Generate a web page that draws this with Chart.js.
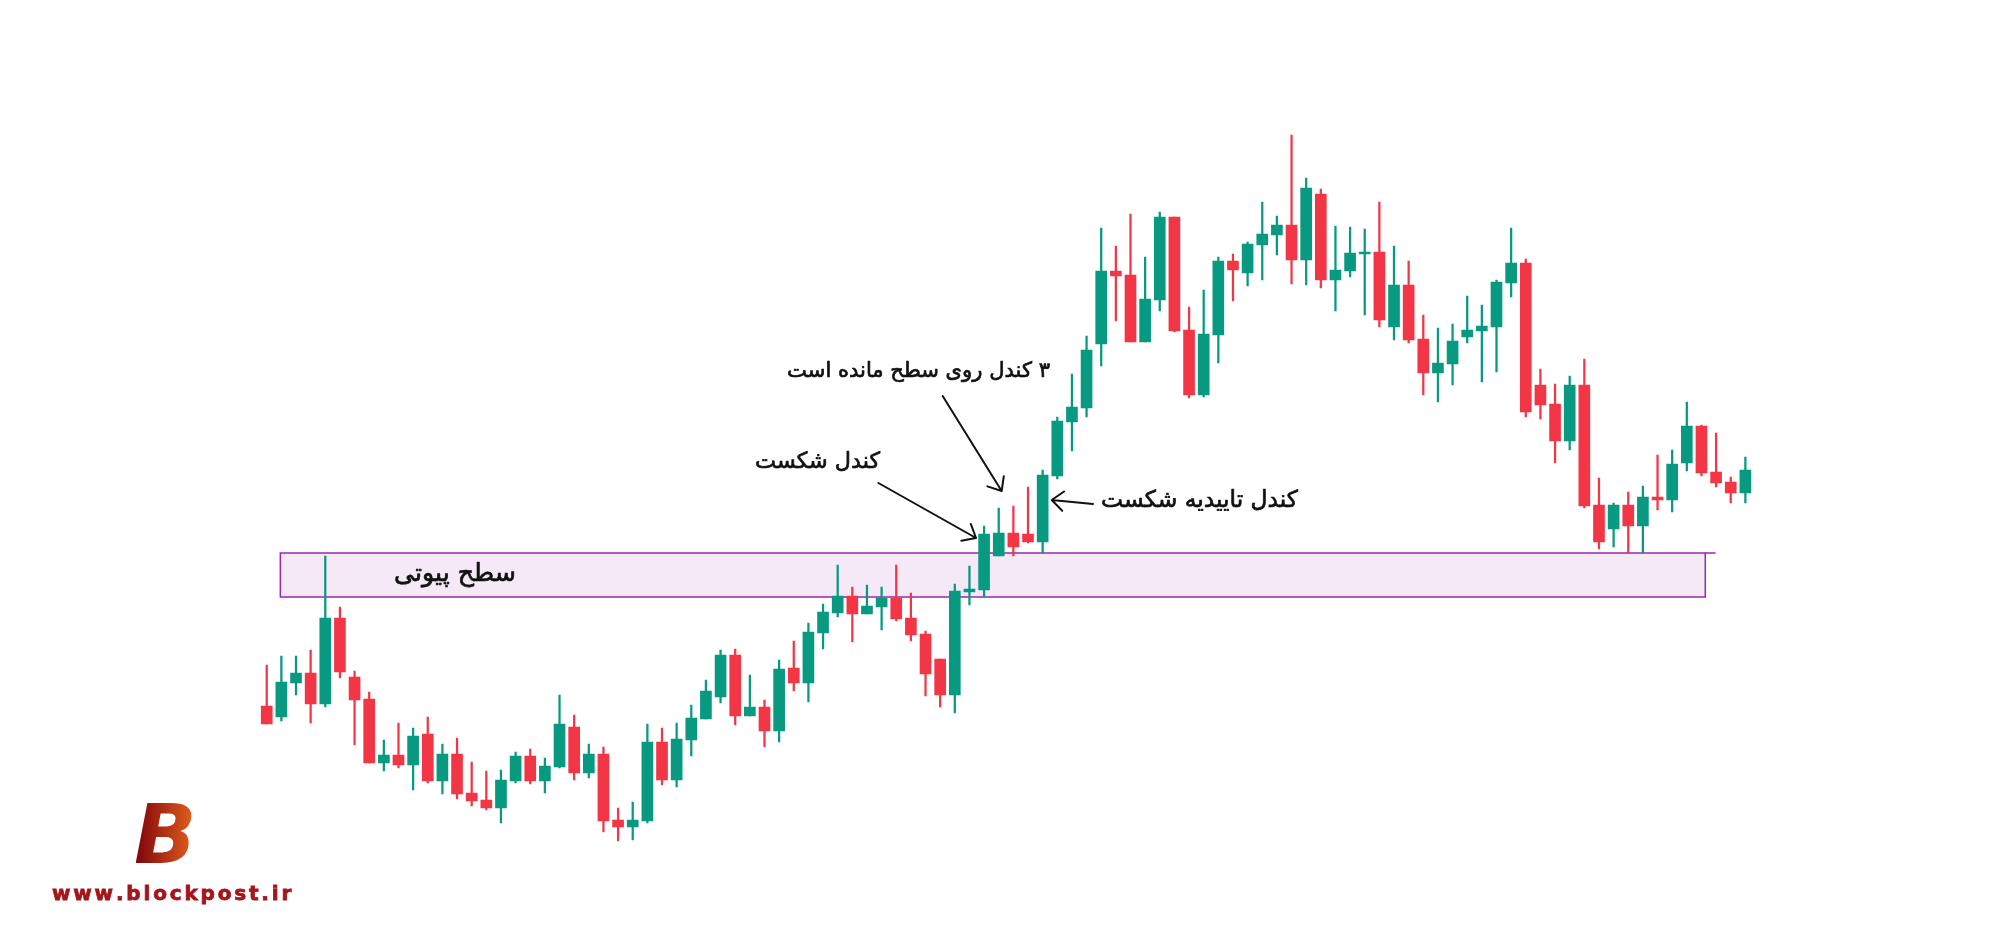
<!DOCTYPE html>
<html lang="fa">
<head>
<meta charset="utf-8">
<title>سطح پیوتی</title>
<script src="https://cdn.jsdelivr.net/npm/chart.js@4.4.1/dist/chart.umd.min.js"></script>
<style>
  html, body { margin: 0; padding: 0; background: #fff; }
  #wrap { position: relative; width: 2000px; height: 938px; }
</style>
</head>
<body>
<div id="wrap"><canvas id="chart"></canvas></div>
<script>
// candle values (arbitrary price units)
const opens = [194,183,217,227,196,282,223,201,137,145,
  135,166,119,146,107,100,92,119,144,119,
  133,173,127,146,80,73,79,158,120,160,
  181,203,245,184,193,169,232,217,267,287,
  304,286,293,302,282,266,241,205,308,310,
  344,367,366,358,424,478,492,556,629,625,
  558,600,683,570,505,565,639,627,655,665,
  675,640,706,620,629,646,648,573,615,561,
  527,536,563,569,573,617,637,515,496,459,
  515,395,371,395,374,403,400,437,474,428,
  418,407];
const highs = [235,244,244,250,344,293,229,208,160,177,
  172,183,156,162,138,129,130,148,151,142,
  205,185,156,153,92,98,176,172,177,195,
  220,250,251,225,200,240,259,277,296,335,
  313,315,313,335,307,269,241,316,334,374,
  392,394,413,430,483,526,564,672,654,686,
  643,688,683,593,610,643,646,658,698,684,
  765,722,711,674,673,671,698,654,639,585,
  572,576,604,595,620,672,641,531,516,524,
  541,422,397,408,414,445,450,498,475,467,
  423,443];
const lows = [176,179,205,177,193,222,155,137,129,132,
  110,117,106,101,94,90,77,117,116,107,
  132,120,122,68,59,60,77,115,113,144,
  181,197,175,184,153,158,209,198,251,283,
  258,286,270,279,259,204,193,187,295,303,
  344,344,357,347,421,449,483,534,579,558,
  558,589,568,502,503,537,599,614,620,645,
  616,615,612,589,623,585,573,560,557,505,
  498,515,557,518,528,603,483,481,437,450,
  392,351,353,347,347,390,388,429,424,413,
  397,397];
const closes = [176,218,227,196,282,228,200,137,145,135,
  164,119,146,106,99,92,120,144,119,134,
  176,127,146,79,73,80,158,120,161,182,
  209,245,184,193,169,231,217,268,288,304,
  286,294,302,281,265,226,205,309,311,366,
  367,353,358,425,479,493,550,629,624,558,
  601,683,569,505,566,639,630,656,666,675,
  640,712,620,630,647,648,580,615,560,527,
  537,559,570,574,618,637,488,495,459,515,
  394,358,395,374,403,400,436,474,427,417,
  407,430];
const candleLabels = opens.map((_, i) => String(i + 1));

const UP = '#089981';
const DOWN = '#f23645';
const candleColors = opens.map((o, i) => closes[i] >= o ? UP : DOWN);

// pivot zone, in candle index / price units
const pivotZone = { from: 0.93, to: 98.26, lineTo: 98.97, top: 347, bottom: 303 };

// notes: right edge of text at (x, y), arrows from -> to
const notes = [
  { text: '۳ کندل روی سطح مانده است', x: 53.5, y: 523, width: 263 },
  { text: 'کندل شکست', x: 41.89, y: 432, width: 125 },
  { text: 'کندل تاییدیه شکست', x: 70.44, y: 393, width: 197 },
  { text: 'سطح پیوتی', x: 17.02, y: 319, width: 122 }
];
const arrows = [
  { from: [46.17, 504], to: [50.2, 409] },
  { from: [41.78, 417], to: [48.45, 362] },
  { from: [56.44, 396], to: [53.62, 400] }
];

function fitFont(ctx, text, target) {
  ctx.font = '100px "DejaVu Sans"';
  const w = ctx.measureText(text).width;
  return (100 * target / w).toFixed(2) + 'px "DejaVu Sans"';
}

const zonePlugin = {
  id: 'zone',
  beforeDatasetsDraw(chart) {
    const { ctx, scales: { x, y } } = chart;
    const x0 = x.getPixelForValue(pivotZone.from);
    const x1 = x.getPixelForValue(pivotZone.to);
    const x2 = x.getPixelForValue(pivotZone.lineTo);
    const y0 = y.getPixelForValue(pivotZone.top);
    const y1 = y.getPixelForValue(pivotZone.bottom);
    ctx.save();
    ctx.fillStyle = 'rgba(156, 39, 176, 0.1)';
    ctx.fillRect(x0, y0, x1 - x0, y1 - y0);
    ctx.strokeStyle = '#9c27b0';
    ctx.lineWidth = 1.5;
    ctx.strokeRect(x0, y0, x1 - x0, y1 - y0);
    ctx.beginPath();
    ctx.moveTo(x1, y0);
    ctx.lineTo(x2, y0);
    ctx.stroke();
    ctx.restore();
  },
  afterDatasetsDraw(chart) {
    const { ctx, scales: { x, y } } = chart;
    ctx.save();
    // arrows
    ctx.strokeStyle = '#111';
    ctx.lineWidth = 2;
    ctx.lineCap = 'round';
    for (const a of arrows) {
      const fx = x.getPixelForValue(a.from[0]), fy = y.getPixelForValue(a.from[1]);
      const tx = x.getPixelForValue(a.to[0]), ty = y.getPixelForValue(a.to[1]);
      const ang = Math.atan2(fy - ty, fx - tx);
      ctx.beginPath();
      ctx.moveTo(fx, fy);
      ctx.lineTo(tx, ty);
      for (const d of [-0.7, 0.7]) {
        ctx.moveTo(tx, ty);
        ctx.lineTo(tx + 15 * Math.cos(ang + d), ty + 15 * Math.sin(ang + d));
      }
      ctx.stroke();
    }
    // texts, a thin stroke makes them a bit heavier
    ctx.fillStyle = '#111';
    ctx.strokeStyle = '#111';
    ctx.lineWidth = 0.7;
    ctx.lineJoin = 'round';
    ctx.direction = 'rtl';
    ctx.textAlign = 'right';
    ctx.textBaseline = 'alphabetic';
    for (const n of notes) {
      ctx.font = fitFont(ctx, n.text, n.width);
      const px = x.getPixelForValue(n.x), py = y.getPixelForValue(n.y);
      ctx.fillText(n.text, px, py);
      ctx.strokeText(n.text, px, py);
    }
    ctx.restore();

    // logo
    ctx.save();
    ctx.direction = 'ltr';
    ctx.textAlign = 'left';
    const g = ctx.createLinearGradient(140, 0, 198, 0);
    g.addColorStop(0, '#860a0c');
    g.addColorStop(1, '#ea661d');
    ctx.fillStyle = g;
    ctx.font = 'italic bold 82px "DejaVu Sans"';
    ctx.fillText('B', 134, 863);

    // site name, spread letter by letter over its width
    const site = 'www.blockpost.ir';
    ctx.fillStyle = '#a3161b';
    ctx.strokeStyle = '#a3161b';
    ctx.lineWidth = 0.8;
    ctx.font = 'bold 20px "DejaVu Sans"';
    const plain = ctx.measureText(site).width;
    const gap = (238 - plain) / (site.length - 1);
    let cx = 52;
    for (const ch of site) {
      ctx.fillText(ch, cx, 900);
      ctx.strokeText(ch, cx, 900);
      cx += ctx.measureText(ch).width + gap;
    }
    ctx.restore();
  }
};

new Chart(document.getElementById('chart'), {
  type: 'bar',
  data: {
    labels: candleLabels,
    datasets: [
      {
        label: 'body',
        data: opens.map((o, i) => [o, closes[i]]),
        backgroundColor: candleColors,
        barThickness: 11,
        minBarLength: 2,
        grouped: false,
        order: 1
      },
      {
        label: 'wick',
        data: lows.map((l, i) => [l, highs[i]]),
        backgroundColor: candleColors,
        barThickness: 1.6,
        grouped: false,
        order: 2
      }
    ]
  },
  options: {
    responsive: true,
    maintainAspectRatio: false,
    devicePixelRatio: 1,
    animation: false,
    layout: { padding: { left: 259.4, right: 247.3, top: 100, bottom: 58 } },
    plugins: { legend: { display: false }, tooltip: { enabled: false } },
    scales: {
      x: { display: false },
      y: { display: false, min: 20, max: 800 }
    }
  },
  plugins: [zonePlugin]
});
</script>
</body>
</html>
